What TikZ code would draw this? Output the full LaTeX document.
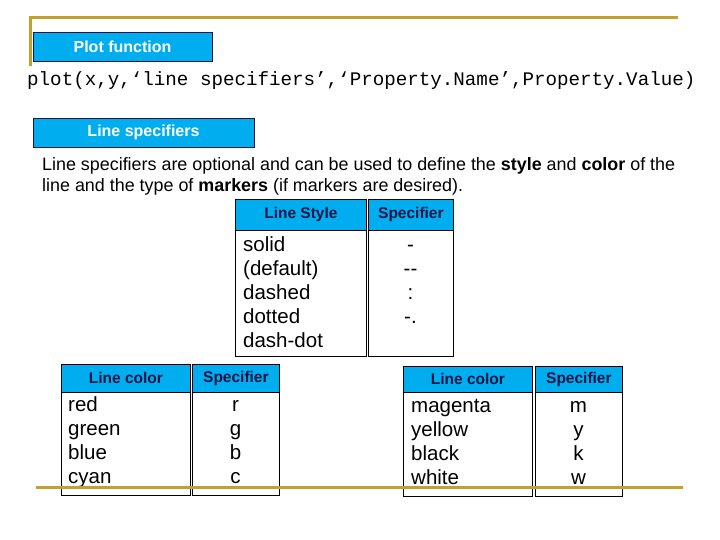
\documentclass[tikz,border=0pt]{standalone}
\usepackage{fontspec}
\setmainfont{Liberation Sans}
\setmonofont{Liberation Mono}
\definecolor{gold}{RGB}{196,160,48}
\definecolor{skyb}{RGB}{0,174,239}
\definecolor{navy}{RGB}{20,20,70}
\begin{document}
\begin{tikzpicture}[x=1pt,y=-1pt,
  title/.style={draw=navy,fill=skyb,text=white,font=\bfseries\fontsize{16}{18}\selectfont,inner sep=0pt},
  col/.style={draw=black,line width=0.8pt,inner sep=0pt},
  head/.style={draw=black,line width=0.8pt,fill=skyb,text=navy,font=\bfseries\fontsize{15.5}{18}\selectfont,inner sep=0pt},
  body/.style={font=\fontsize{20.5}{24}\selectfont,inner sep=0pt,anchor=north west,align=left},
  spec/.style={font=\fontsize{20.5}{24}\selectfont,inner sep=0pt,anchor=north,align=center},
  goldline/.style={draw=gold,line width=3pt}]
\useasboundingbox (0,0) rectangle (720,540);
% gold frame top
\coordinate (g1) at (30,66); \coordinate (g2) at (30,18); \coordinate (g3) at (678,18);
\draw[goldline] (g1) -- (g2) -- (g3);
% title boxes
\node[title,minimum width=179pt,minimum height=29pt] (pf) at (122.5,46.5) {Plot function};
\node[font=\ttfamily\fontsize{19.2}{20}\selectfont,inner sep=0pt,anchor=west] (code) at (27,81)
  {plot(x,y,‘line specifiers’,‘Property.Name’,Property.Value)};
\node[title,minimum width=221pt,minimum height=29pt] (ls) at (143.5,132.5) {Line specifiers};
\node[font=\fontsize{17.9}{21}\selectfont,inner sep=0pt,anchor=north west,align=left] (para) at (42,157)
  {Line specifiers are optional and can be used to define the \textbf{style} and \textbf{color} of the\\
   line and the type of \textbf{markers} (if markers are desired).};
% table 1
\node[col,minimum width=131pt,minimum height=157pt,anchor=north west] (t1a) at (235,199) {};
\node[head,minimum width=131pt,minimum height=31pt,anchor=north west] (h1a) at (235,199) {Line Style};
\node[col,minimum width=85pt,minimum height=157pt,anchor=north west] (t1b) at (368,199) {};
\node[head,minimum width=85pt,minimum height=31pt,anchor=north west] (h1b) at (368,199) {Specifier};
\node[body] (b1a) at (243,234) {\strut solid\\\strut(default)\\\strut dashed\\\strut dotted\\\strut dash-dot};
\node[spec] (b1b) at (410.5,234) {\strut-\\\strut{-}{-}\\\strut:\\\strut-.};
% table 2
\node[col,minimum width=129pt,minimum height=131pt,anchor=north west] (t2a) at (61,364) {};
\node[head,minimum width=129pt,minimum height=28pt,anchor=north west] (h2a) at (61,364) {Line color};
\node[col,minimum width=87pt,minimum height=131pt,anchor=north west] (t2b) at (192,364) {};
\node[head,minimum width=87pt,minimum height=28pt,anchor=north west] (h2b) at (192,364) {Specifier};
\node[body] (b2a) at (68,394) {\strut red\\\strut green\\\strut blue\\\strut cyan};
\node[spec] (b2b) at (235.5,394) {\strut r\\\strut g\\\strut b\\\strut c};
% table 3
\node[col,minimum width=129pt,minimum height=130pt,anchor=north west] (t3a) at (403,366) {};
\node[head,minimum width=129pt,minimum height=26pt,anchor=north west] (h3a) at (403,366) {Line color};
\node[col,minimum width=87pt,minimum height=130pt,anchor=north west] (t3b) at (535,366) {};
\node[head,minimum width=87pt,minimum height=26pt,anchor=north west] (h3b) at (535,366) {Specifier};
\node[body] (b3a) at (411,395) {\strut magenta\\\strut yellow\\\strut black\\\strut white};
\node[spec] (b3b) at (578.5,395) {\strut m\\\strut y\\\strut k\\\strut w};
% bottom gold line
\coordinate (g4) at (36,487); \coordinate (g5) at (683,487);
\draw[goldline] (g4) -- (g5);
\end{tikzpicture}
\end{document}
